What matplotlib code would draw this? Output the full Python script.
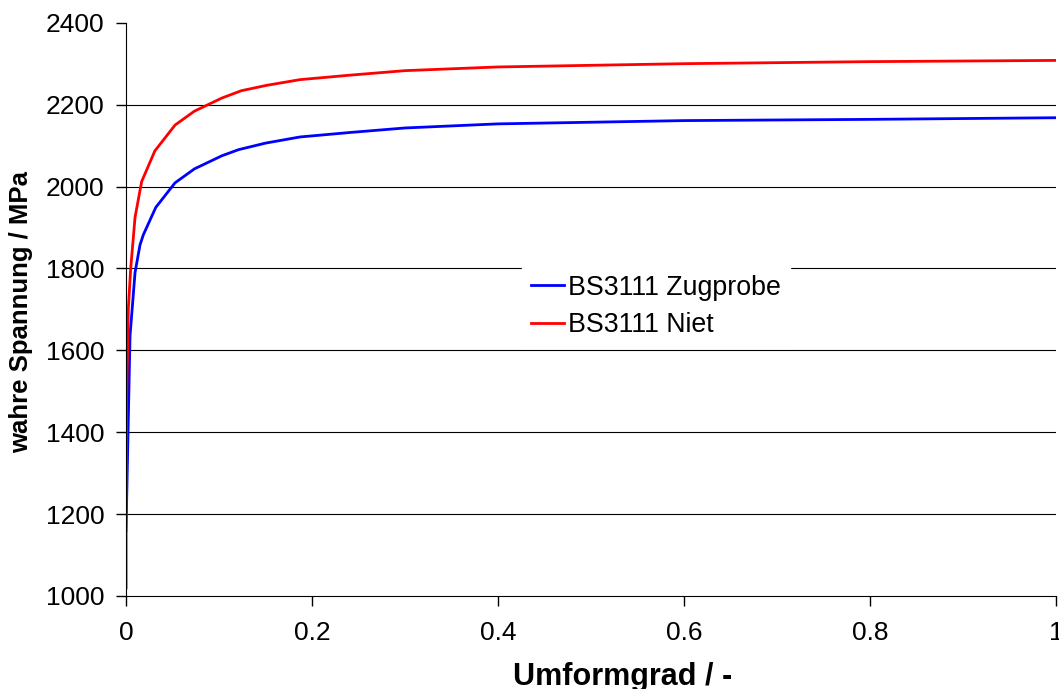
import matplotlib
matplotlib.use("Agg")
import matplotlib.pyplot as plt

plt.rcParams.update({
    "font.family": ["Liberation Sans", "DejaVu Sans"],
    "font.size": 19,
})

# true strain (Umformgrad) and true stress in MPa
strain_zug = [0.0, 0.0, 0.0043, 0.0097, 0.015, 0.0186, 0.032, 0.0527, 0.0735,
              0.103, 0.121, 0.150, 0.187, 0.241, 0.30, 0.40, 0.60, 0.80, 1.0]
stress_zug = [1020, 1160, 1635, 1790, 1857, 1882, 1949, 2009, 2043,
              2075, 2090, 2106, 2121, 2132, 2143, 2153, 2161, 2164, 2168]

strain_niet = [0.0, 0.0007, 0.0025, 0.005, 0.0097, 0.0168, 0.031, 0.0527, 0.0735,
               0.103, 0.124, 0.151, 0.187, 0.241, 0.30, 0.40, 0.60, 0.80, 1.0]
stress_niet = [1160, 1489, 1702, 1799, 1925, 2012, 2087, 2150, 2184,
               2216, 2234, 2247, 2261, 2272, 2283, 2292, 2300, 2305, 2308]

x_ticks = [0, 0.2, 0.4, 0.6, 0.8, 1]
x_labels = ["0", "0.2", "0.4", "0.6", "0.8", "1"]
y_ticks = [1000, 1200, 1400, 1600, 1800, 2000, 2200, 2400]

fig = plt.figure(figsize=(10.59, 6.89), dpi=100)
ax = fig.add_axes([0.119, 0.135, 0.878, 0.832])

ax.plot(strain_zug, stress_zug, color="#0000ff", lw=2, label="BS3111 Zugprobe")
ax.plot(strain_niet, stress_niet, color="#ff0000", lw=2, label="BS3111 Niet")

ax.set_xlim(0, 1)
ax.set_ylim(1000, 2400)
ax.set_xticks(x_ticks)
ax.set_xticklabels(x_labels)
ax.set_yticks(y_ticks)

# horizontal grid, none on the top edge
for yv in y_ticks[1:-1]:
    ax.axhline(yv, color="black", lw=0.8, zorder=0)

for side in ("top", "right"):
    ax.spines[side].set_visible(False)
ax.tick_params(axis="x", direction="out", length=7, width=1, pad=11)
ax.tick_params(axis="y", direction="out", length=7, width=1, pad=8.5)

ax.set_xlabel("Umformgrad / -", fontweight="bold", fontsize=22)
ax.xaxis.label.set_va("baseline")
ax.xaxis.set_label_coords(0.534, -0.155)
ax.set_ylabel("wahre Spannung / MPa", fontweight="bold", fontsize=18.5)
ax.yaxis.set_label_coords(-0.100, 0.496)

leg = ax.legend(loc="center", bbox_to_anchor=(0.570, 0.505), fontsize=19.3,
                frameon=True, fancybox=False, handlelength=1.2,
                handletextpad=0.15, borderpad=0.36, labelspacing=0.42,
                borderaxespad=0)
leg.get_frame().set_edgecolor("white")
leg.get_frame().set_facecolor("white")
leg.get_frame().set_alpha(1)

fig.savefig("out.png", dpi=100)
